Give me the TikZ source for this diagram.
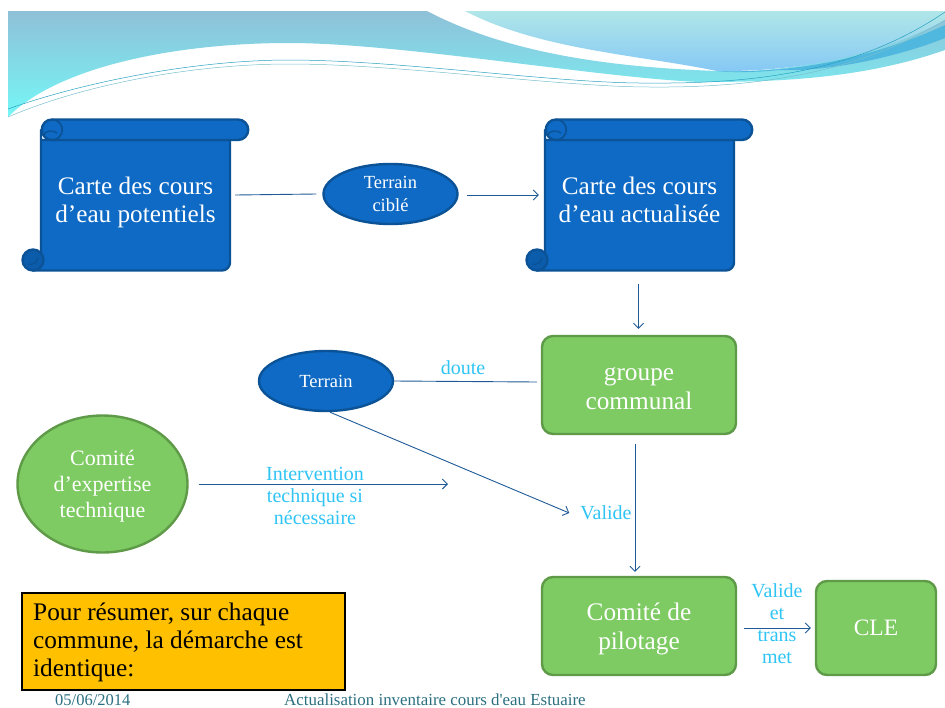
\documentclass[tikz,border=0pt]{standalone}
\usepackage{fontspec}
\setmainfont{Liberation Serif}
\usetikzlibrary{arrows.meta,shapes.geometric}
\definecolor{bluefill}{HTML}{0E6AC4}
\definecolor{bluedark}{HTML}{0C5CAC}
\definecolor{bluedraw}{HTML}{0B5396}
\definecolor{greenfill}{HTML}{7DCB62}
\definecolor{greendraw}{HTML}{5E9A48}
\definecolor{cyantext}{HTML}{2FC4F4}
\definecolor{linkblue}{HTML}{1F5A96}
\definecolor{footer}{HTML}{2A6F80}
\newcommand{\lowerby}[1]{\rule{0pt}{#1}}
\tikzset{
  link/.style={draw=linkblue,line width=0.9pt},
  arrowlink/.style={link,-{Straight Barb[length=5pt,width=10pt]}},
  oval/.style={ellipse,draw=bluedraw,line width=2.4pt,fill=bluefill,text=white,align=center,inner sep=0pt,font=\fontsize{18.5}{23}\selectfont},
  greenoval/.style={ellipse,draw=greendraw,line width=2.4pt,fill=greenfill,text=white,align=center,inner sep=0pt,font=\fontsize{22}{26}\selectfont},
  greenbox/.style={rectangle,rounded corners=11pt,draw=greendraw,line width=2.4pt,fill=greenfill,text=white,align=center,inner sep=0pt,font=\fontsize{25.3}{28.5}\selectfont},
  scrolltext/.style={rectangle,text=white,align=center,inner sep=0pt,font=\fontsize{25.2}{28}\selectfont},
  cyanlabel/.style={text=cyantext,align=center,inner sep=0pt,font=\fontsize{20}{22}\selectfont},
  scrollshape/.style={draw=bluedraw,line width=2.4pt,fill=bluefill,line join=round},
  wave/.style={line width=0.5pt},
}
\newcommand{\scrollat}[1]{%
  \begin{scope}[shift={(#1,0)}]
    \path[scrollshape] (41,130) -- (41,262) -- (33,270.5) -- (222,270.5)
      arc[start angle=-90,end angle=0,radius=8pt] -- (230,140) -- (41,140) -- cycle;
    \path[scrollshape] (52,119.5) -- (238,119.5) arc[start angle=90,end angle=-90,radius=10.25pt]
      -- (52,140) arc[start angle=-90,end angle=-270,radius=10.25pt] -- cycle;
    \draw[bluedraw,line width=1.8pt] (52,119.5) arc[start angle=90,end angle=-90,radius=10.25pt];
    \draw[bluedraw,line width=1.4pt] (43,136) .. controls (45,130) and (53,130) .. (57,133);
    \path[scrollshape,fill=bluedark] (33,260) circle[radius=10.5pt];
    \draw[bluedraw,line width=1.4pt] (28,264) .. controls (32,266) and (38,262) .. (38,257);
  \end{scope}}
\begin{document}
\begin{tikzpicture}[x=1pt,y=-1pt]
\useasboundingbox (0,0) rectangle (945,707);
% banner
\path[top color={rgb,255:red,143;green,192;blue,216},bottom color={rgb,255:red,117;green,247;blue,247}]
  (8,11) -- (427,11) .. controls (520,60) and (640,68) .. (717,71)
  .. controls (800,74) and (890,50) .. (945,12) -- (945,50)
  .. controls (860,80) and (770,82) .. (700,82)
  .. controls (600,78) and (400,43) .. (289,43)
  .. controls (180,43) and (60,65) .. (8,117) -- cycle;
\path[top color={rgb,255:red,176;green,230;blue,232},bottom color={rgb,255:red,133;green,200;blue,245}]
  (465,11) -- (945,11) -- (945,20) .. controls (880,55) and (800,72) .. (717,71)
  .. controls (640,55) and (540,50) .. (465,11) -- cycle;
\path[fill={rgb,255:red,80;green,184;blue,222}]
  (717,71) .. controls (800,74) and (880,55) .. (945,25) -- (945,38)
  .. controls (890,60) and (820,72) .. (780,70) .. controls (760,72) and (735,73) .. (717,71) -- cycle;
\draw[wave,draw={rgb,255:red,40;green,160;blue,190}]
  (8,109) .. controls (90,80) and (200,60) .. (289,60)
  .. controls (400,60) and (560,84) .. (650,83)
  .. controls (760,84) and (860,70) .. (945,12);
\draw[wave,draw={rgb,255:red,120;green,190;blue,205}]
  (8,117) .. controls (90,82) and (200,64) .. (289,64)
  .. controls (400,64) and (560,87) .. (650,87)
  .. controls (760,88) and (860,72) .. (945,20);
% scrolls
\scrollat{0}
\scrollat{504}
\node[scrolltext,minimum width=189pt,minimum height=130pt] (carte1) at (135.5,202.5) {Carte des cours\\d’eau potentiels};
\node[scrolltext,minimum width=189pt,minimum height=130pt] (carte2) at (639.5,200) {Carte des cours\\d’eau actualisée};
% nodes
\node[oval,minimum width=134pt,minimum height=60pt] (cible) at (390.5,194) {Terrain\\ciblé};
\node[oval,minimum width=134pt,minimum height=60pt] (terrain) at (326,381) {Terrain};
\node[greenoval,minimum width=170pt,minimum height=137pt] (expert) at (102.5,484) {\lowerby{20pt}Comité\\d’expertise\\technique};
\node[greenbox,minimum width=194pt,minimum height=98pt] (groupe) at (639,385) {\lowerby{20pt}groupe\\communal};
\node[greenbox,minimum width=194pt,minimum height=98pt] (pilotage) at (639,626) {\lowerby{23pt}Comité de\\pilotage};
\node[greenbox,minimum width=120pt,minimum height=94pt,font=\fontsize{23.5}{28}\selectfont] (cle) at (876,628) {CLE};
\node[draw=black,line width=2.4pt,fill={rgb,255:red,255;green,192;blue,0},minimum width=323pt,minimum height=97pt,inner sep=0pt] (resume) at (183.5,641.5) {};
\node[anchor=north west,align=left,inner sep=0pt,font=\fontsize{25.3}{28}\selectfont] (resumetext) at (33,603) {Pour résumer, sur chaque\\commune, la démarche est\\identique:};
% labels
\node[cyanlabel] (doute) at (463,368) {doute};
\node[cyanlabel] (interv) at (315,496) {Intervention\\technique si\\nécessaire};
\node[cyanlabel] (valide) at (606,513) {Valide};
\node[cyanlabel] (valide2) at (777,623.5) {Valide\\et\\trans\\met};
% connectors
\draw[link] ([xshift=5pt,yshift=7.5pt]carte1.east) -- ([xshift=-6pt]cible.west);
\draw[arrowlink] ([xshift=8pt,yshift=-1pt]cible.east) -- ([xshift=-6pt,yshift=5pt]carte2.west);
\coordinate (cartebas) at (638.5,284);
\draw[arrowlink] (cartebas) -- ([xshift=-0.5pt,yshift=6pt]groupe.north);
\draw[link] (terrain.east) -- ([xshift=-4pt,yshift=3pt]groupe.west);
\draw[arrowlink] ([xshift=4pt]terrain.south) -- ([xshift=-11pt]valide.west);
\coordinate (intervend) at (448,484);
\draw[arrowlink] ([xshift=10pt]expert.east) -- (intervend);
\draw[arrowlink] ([xshift=-4pt,yshift=-9pt]groupe.south) -- ([xshift=-4pt,yshift=4pt]pilotage.north);
\draw[arrowlink] ([xshift=7pt,yshift=-2pt]pilotage.east) -- ([xshift=-4pt]cle.west);
% footer
\node[text=footer,anchor=base west,inner sep=0pt,font=\fontsize{16.5}{18}\selectfont] (date) at (55,705) {05/06/2014};
\node[text=footer,anchor=base west,inner sep=0pt,font=\fontsize{16.9}{18}\selectfont] (title) at (284,705) {Actualisation inventaire cours d\textquotesingle eau Estuaire};
\end{tikzpicture}
\end{document}
